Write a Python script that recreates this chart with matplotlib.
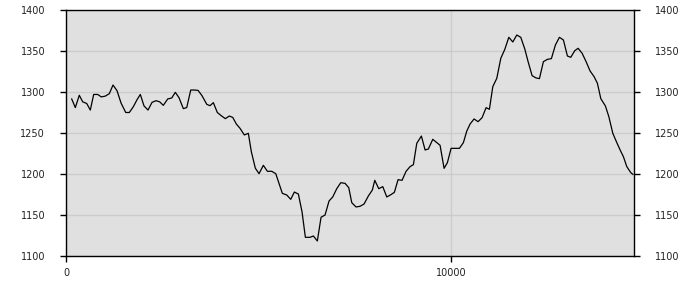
import matplotlib
matplotlib.use("Agg")
import matplotlib.pyplot as plt

x_vals = [148, 242, 345, 434, 538, 631, 719, 823, 917, 1021, 1125, 1221, 1325, 1429, 1551, 1644,
          1748, 1844, 1930, 2026, 2130, 2234, 2338, 2434, 2527, 2641, 2745, 2839, 2935, 3047, 3135,
          3239, 3332, 3429, 3532, 3655, 3740, 3826, 3930, 4034, 4138, 4242, 4330, 4423, 4519, 4631,
          4735, 4813, 4917, 5013, 5125, 5229, 5343, 5447, 5618, 5732, 5836, 5930, 6034, 6130, 6216,
          6338, 6424, 6527, 6623, 6727, 6831, 6927, 7031, 7135, 7247, 7343, 7421, 7532, 7636, 7740,
          7852, 7956, 8018, 8122, 8226, 8330, 8423, 8527, 8623, 8727, 8831, 8935, 9021, 9109, 9229,
          9325, 9410, 9525, 9629, 9714, 9818, 9904, 10000, 10104, 10216, 10319, 10408, 10494, 10597,
          10701, 10805, 10909, 10995, 11083, 11187, 11291, 11395, 11499, 11603, 11706, 11810, 11914,
          12000, 12104, 12208, 12294, 12397, 12501, 12605, 12709, 12813, 12917, 13021, 13108, 13212,
          13299, 13403, 13506, 13610, 13714, 13800, 13888, 14008, 14096, 14200, 14304, 14390, 14475,
          14563, 14667, 14719]
y_vals = [1291.5, 1281, 1296, 1288, 1286, 1278, 1297, 1297, 1294, 1295, 1298, 1308.5, 1301.6, 1286.6,
          1275, 1275, 1282, 1290.6, 1297, 1283, 1278, 1287.4, 1289.4, 1288, 1283.7, 1291.5, 1292.7,
          1299.6, 1293, 1279.7, 1281, 1302.4, 1302.4, 1302, 1295.5, 1285, 1283.3, 1287, 1275, 1271,
          1267.5, 1270.7, 1269, 1261, 1255.7, 1247.6, 1249.6, 1227.2, 1207, 1200.4, 1210.6, 1203.3,
          1203.3, 1200.4, 1176.4, 1174.4, 1169.1, 1178, 1175.6, 1153.7, 1122.8, 1122.8, 1124.4,
          1118.3, 1147.2, 1150, 1167.1, 1172, 1182.1, 1189.4, 1188.6, 1183.3, 1165, 1159.8, 1160.6,
          1163.4, 1173.2, 1180.5, 1192.3, 1182.1, 1184.6, 1172, 1174.4, 1177.6, 1193.1, 1192.3,
          1203.3, 1209, 1211.4, 1237.4, 1246.3, 1229.3, 1230.5, 1242.3, 1238.2, 1235, 1206.9,
          1213.8, 1231.3, 1231.3, 1231.3, 1238.2, 1252.4, 1261, 1267.1, 1263.8, 1268.7, 1280.9,
          1278.9, 1306.5, 1316.7, 1341.1, 1352, 1366.7, 1361, 1369.5, 1366.7, 1352.4, 1337, 1319.9,
          1317.1, 1316.3, 1337, 1339.8, 1340.7, 1357.3, 1366.7, 1363.4, 1343.9, 1342.3, 1350.4,
          1353.3, 1347.2, 1337, 1325.6, 1318.7, 1310.6, 1291.9, 1282.9, 1270, 1249.6, 1238.2,
          1229.3, 1221.1, 1209, 1201.6, 1199.6]
x_ticks = [0, 10000]
y_ticks = [1100, 1150, 1200, 1250, 1300, 1350, 1400]

fig = plt.figure(figsize=(7, 3), dpi=100)
ax = fig.add_axes([66/700, 1 - 256/300, 568/700, 246/300])
ax.set_facecolor("#e0e0e0")
ax.plot(x_vals, y_vals, color="black", linewidth=0.9)
ax.set_xlim(0, 14750)
ax.set_ylim(1100, 1400)
ax.set_xticks(x_ticks)
ax.set_yticks(y_ticks)
ax.grid(True, color="#cccccc", linewidth=1)
ax.set_axisbelow(True)
for s in ax.spines.values():
    s.set_color("black")
    s.set_linewidth(1)
ax.tick_params(axis="both", direction="out", length=4, width=1, labelsize=7,
               colors="black", labelcolor="#222222", right=True, labelright=True)
ax.tick_params(axis="x", pad=5)
ax.tick_params(axis="y", pad=11)
fig.savefig("out.png", dpi=100, facecolor="white")
